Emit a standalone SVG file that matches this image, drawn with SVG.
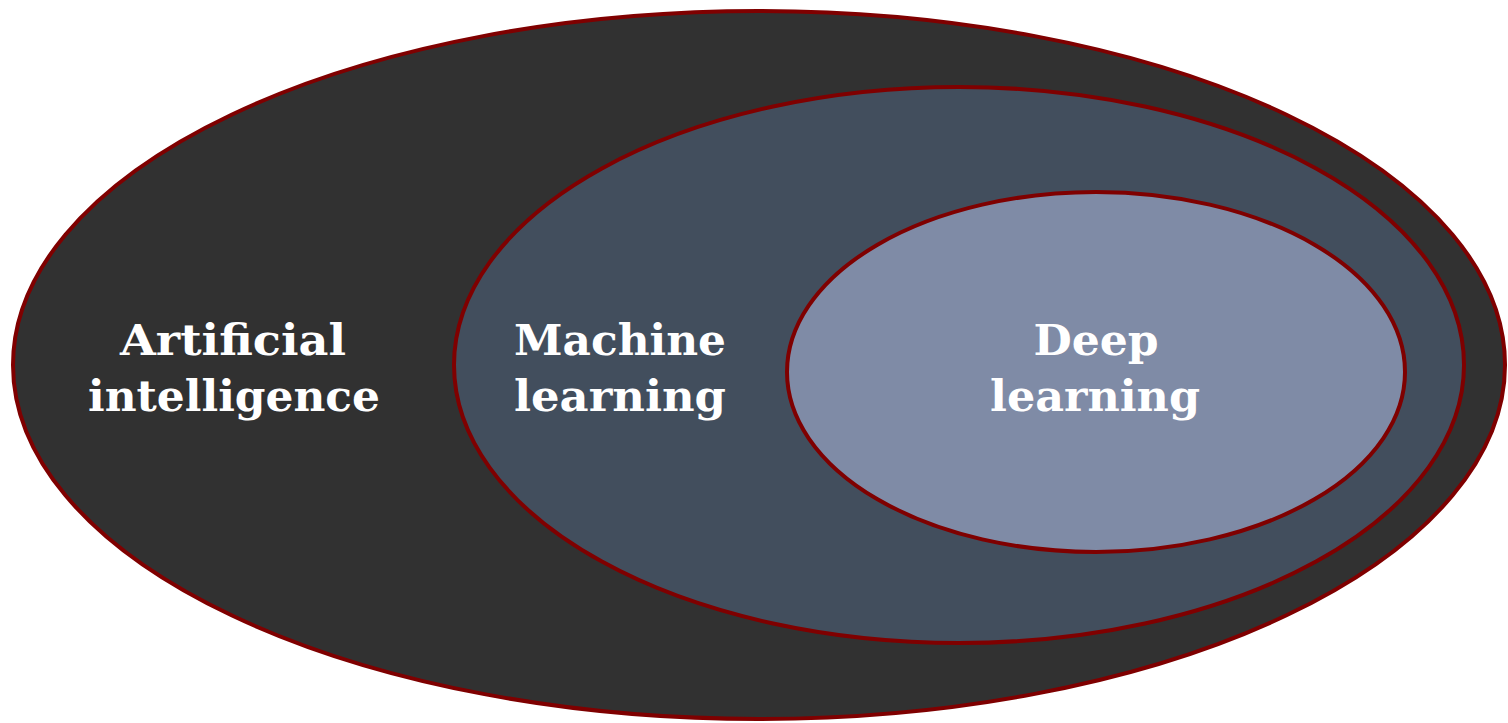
<svg xmlns="http://www.w3.org/2000/svg" width="1508" height="723" viewBox="0 0 1508 723">
<style>
.e{stroke:#7f0000;stroke-width:4}
.t{font-family:"DejaVu Serif","Liberation Serif",serif;font-weight:bold;font-size:42px;fill:#ffffff;text-anchor:middle}
</style>
<rect width="1508" height="723" fill="#ffffff"/>
<g id="ai">
<ellipse class="e" cx="759" cy="365" rx="746" ry="354" fill="#313131"/>
<text class="t" x="233" y="355" textLength="226" lengthAdjust="spacingAndGlyphs">Artificial</text>
<text class="t" x="234" y="411" textLength="292" lengthAdjust="spacingAndGlyphs">intelligence</text>
</g>
<g id="ml">
<ellipse class="e" cx="959" cy="365" rx="505" ry="278" fill="#424e5d"/>
<text class="t" x="620" y="355" textLength="212" lengthAdjust="spacingAndGlyphs">Machine</text>
<text class="t" x="620" y="411" textLength="212" lengthAdjust="spacingAndGlyphs">learning</text>
</g>
<g id="dl">
<ellipse class="e" cx="1096" cy="372" rx="309" ry="180" fill="#7f8ba6"/>
<text class="t" x="1096" y="355" textLength="125" lengthAdjust="spacingAndGlyphs">Deep</text>
<text class="t" x="1095" y="411" textLength="210" lengthAdjust="spacingAndGlyphs">learning</text>
</g>
<g id="connectors"/>
</svg>
